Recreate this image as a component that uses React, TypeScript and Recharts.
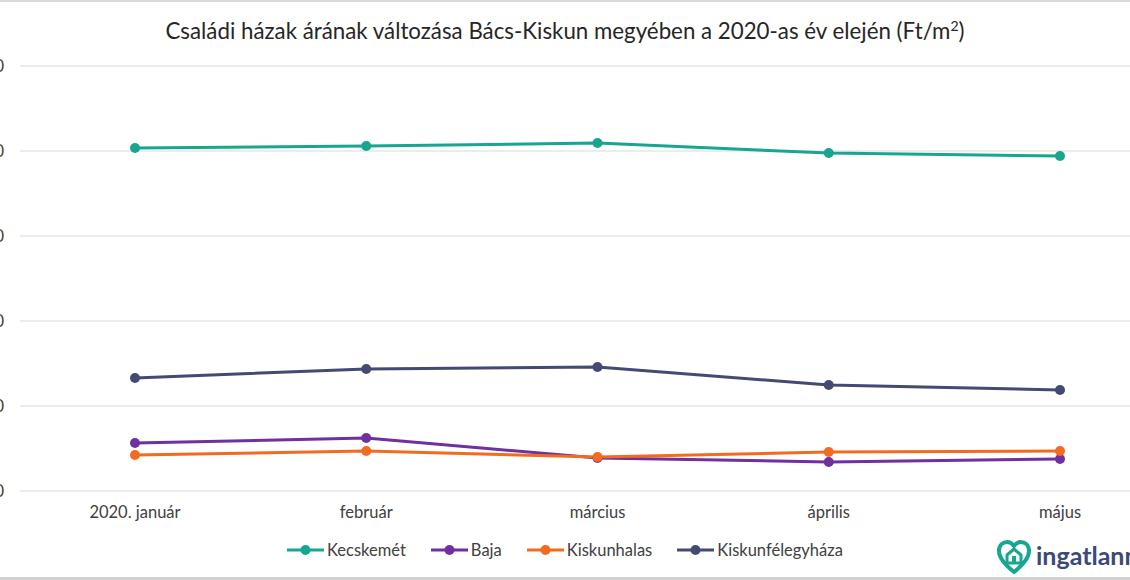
import React from "react";
import { LineChart, Line, XAxis, YAxis, CartesianGrid } from "recharts";

const months = ["2020. január", "február", "március", "április", "május"];
const kecskemet = [201800, 202900, 204700, 198800, 197100];
const baja = [28200, 31200, 19400, 17100, 18800];
const kiskunhalas = [21200, 23500, 20000, 22900, 23500];
const kiskunfelegyhaza = [66500, 71800, 72900, 62400, 59400];
const yTicks = [0, 50000, 100000, 150000, 200000, 250000];

const series = [
  { key: "Kecskemét", color: "#17a68f", values: kecskemet },
  { key: "Baja", color: "#7030a0", values: baja },
  { key: "Kiskunhalas", color: "#f26b21", values: kiskunhalas },
  { key: "Kiskunfélegyháza", color: "#444a73", values: kiskunfelegyhaza },
];

const data = months.map((m, i) => {
  const row: Record<string, string | number> = { month: m };
  series.forEach((s) => (row[s.key] = s.values[i]));
  return row;
});

const font = "Lato, 'Open Sans', sans-serif";

function LegendBox() {
  return (
    <div
      style={{
        position: "absolute",
        left: 0,
        top: 540,
        width: 1130,
        display: "flex",
        justifyContent: "center",
        gap: 25,
        fontFamily: font,
        fontSize: 16.5,
        color: "#404040",
      }}
    >
      {series.map((s) => (
        <div key={s.key} style={{ display: "flex", alignItems: "center" }}>
          <svg width={37} height={12} style={{ marginRight: 3 }}>
            <line x1={0} y1={6} x2={37} y2={6} stroke={s.color} strokeWidth={3} />
            <circle cx={18.5} cy={6} r={5} fill={s.color} />
          </svg>
          <span>{s.key}</span>
        </div>
      ))}
    </div>
  );
}

function Logo() {
  return (
    <div style={{ position: "absolute", left: 996, top: 539, display: "flex", alignItems: "center" }}>
      <svg width={36} height={36} viewBox="0 0 36 36">
        <path
          d="M18 33 C8 25 3 19 3 12 C3 6 7 3 11.5 3 C14.5 3 16.5 5 18 7 C19.5 5 21.5 3 24.5 3 C29 3 33 6 33 12 C33 19 28 25 18 33 Z"
          fill="none"
          stroke="#17a68f"
          strokeWidth={4}
          strokeLinejoin="round"
        />
        <path d="M11 16 L18 10 L25 16 L25 24 L11 24 Z" fill="none" stroke="#17a68f" strokeWidth={3} strokeLinejoin="round" />
        <rect x={16} y={17} width={4} height={7} fill="#17a68f" />
      </svg>
      <span style={{ fontFamily: font, fontWeight: 700, fontSize: 25, color: "#3b4a78", marginLeft: 4, marginTop: -4 }}>
        ingatlannet
      </span>
    </div>
  );
}

export default function App() {
  return (
    <div style={{ position: "absolute", left: 0, top: 0, width: 1130, height: 580, overflow: "hidden", background: "#fff" }}>
      <div style={{ position: "absolute", left: 0, top: 0, width: 1130, height: 2, background: "#d9d9d9" }} />
      <div
        style={{
          position: "absolute",
          left: 0,
          top: 17,
          width: 1130,
          textAlign: "center",
          fontFamily: font,
          fontSize: 22.3,
          color: "#262626",
        }}
      >
        Családi házak árának változása Bács-Kiskun megyében a 2020-as év elején (Ft/m<sup style={{ fontSize: 14 }}>2</sup>)
      </div>
      <div style={{ position: "absolute", left: -40, top: 0 }}>
        <LineChart width={1170} height={580} data={data} margin={{ top: 66, right: 0, bottom: 59, left: 0 }}>
          <CartesianGrid vertical={false} stroke="#d9d9d9" />
          <XAxis
            dataKey="month"
            axisLine={false}
            tickLine={false}
            padding={{ left: 115, right: 70 }}
            height={30}
            tickMargin={9}
            tick={{ fontSize: 16.5, fill: "#404040", fontFamily: font }}
          />
          <YAxis
            width={60}
            domain={[0, 250000]}
            ticks={yTicks}
            axisLine={false}
            tickLine={false}
            tickMargin={10}
            tickFormatter={(v: number) => v.toLocaleString("hu-HU")}
            tick={{ fontSize: 16.5, fill: "#404040", fontFamily: font }}
          />
          {series.map((s) => (
            <Line
              key={s.key}
              dataKey={s.key}
              stroke={s.color}
              strokeWidth={3}
              dot={{ r: 5, fill: s.color, stroke: s.color, strokeWidth: 0 }}
              isAnimationActive={false}
            />
          ))}
        </LineChart>
      </div>
      <LegendBox />
      <Logo />
      <div style={{ position: "absolute", left: 0, top: 577, width: 1130, height: 3, background: "#d0d0d0" }} />
    </div>
  );
}
